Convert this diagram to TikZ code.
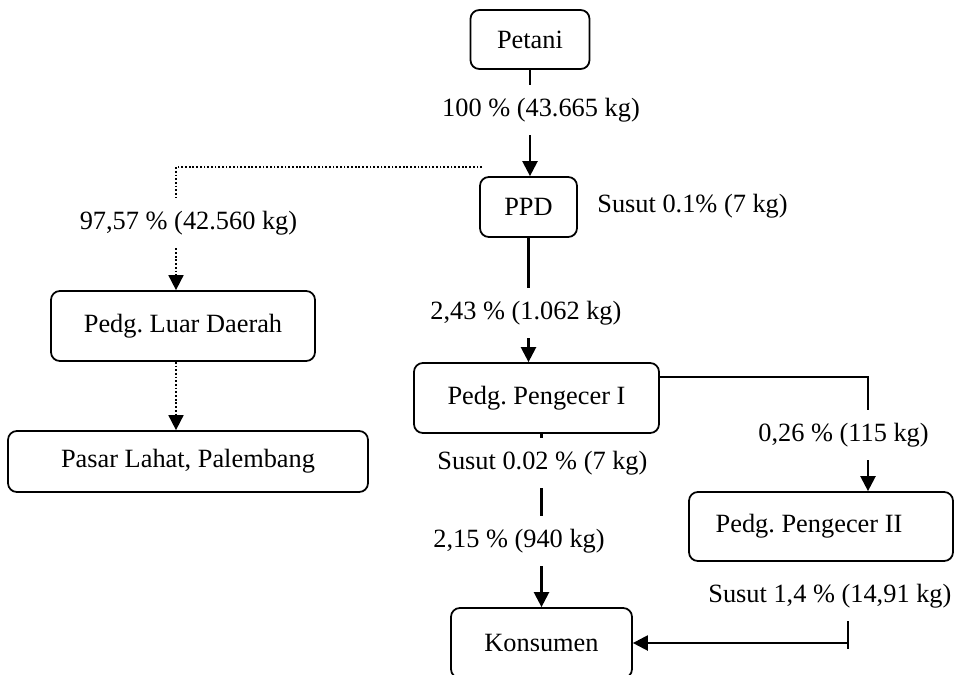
\documentclass[tikz,border=0pt]{standalone}
\usepackage{fontspec}
\setmainfont{Liberation Serif}
\usetikzlibrary{positioning,arrows.meta}
\frenchspacing

\begin{document}
\begin{tikzpicture}[x=0.02cm,y=-0.02cm,
    box/.style={rectangle,rounded corners=5pt,draw,line width=1pt,align=center,
                inner sep=0pt,font=\fontsize{15}{18}\selectfont},
    lbl/.style={font=\fontsize{15}{18}\selectfont,inner xsep=0pt,inner ysep=7pt,
                text height=11pt,text depth=3.5pt},
    link/.style={line width=1.3pt},
    arrow/.style={-{Triangle[length=8.5pt,width=8.5pt]},line width=1.3pt},
    dots/.style={line width=1pt,dash pattern=on 1pt off 1.1pt},
    dotarrow/.style={dots,-{Triangle[length=8.5pt,width=8.5pt]}}
]
\useasboundingbox (0,0) rectangle (954,674);

% Boxes
\node[box,minimum width=2.38cm,minimum height=1.18cm] (petani) at (530,39.5) {Petani};
\node[box,minimum width=1.94cm,minimum height=1.2cm] (ppd) at (528.5,207) {PPD};
\node[box,minimum width=5.28cm,minimum height=1.4cm] (luar) at (183,326) {Pedg. Luar Daerah};
\node[box,minimum width=7.2cm,minimum height=1.22cm] (pasar) at (188,461.5) {Pasar Lahat, Palembang};
\node[box,minimum width=4.9cm,minimum height=1.4cm] (peng1) at (536.5,398) {Pedg. Pengecer I};
\node[box,minimum width=5.28cm,minimum height=1.38cm] (peng2) at (821,526.5) {Pedg. Pengecer II\hspace*{0.48cm}};
\node[box,minimum width=3.62cm,minimum height=1.4cm] (konsumen) at (541.5,643) {Konsumen};

% Flow labels
\node[lbl] (l100) at (541,110) {100 \% (43.665 kg)};
\node[lbl,anchor=west] (lppd) at (597,205.5) {Susut 0.1\% (7 kg)};
\node[lbl] (l9757) at (188.5,223) {97,57 \% (42.560 kg)};
\node[lbl,anchor=west] (l243) at (430,313) {2,43 \% (1.062 kg)};
\node[lbl,anchor=west] (l026) at (758,435) {0,26 \% (115 kg)};
\node[lbl,anchor=west] (lsusut1) at (437,463) {Susut 0.02 \% (7 kg)};
\node[lbl,anchor=west] (l215) at (433,541) {2,15 \% (940 kg)};
\node[lbl,anchor=west] (lsusut2) at (708,596) {Susut 1,4 \% (14,91 kg)};

% Corners of the connectors
\coordinate (split) at (482,167);
\coordinate (c1) at (176,167);
\coordinate (c2) at (868,377);
\coordinate (c3) at (848,643);

% Petani to PPD
\draw[link] (petani.south) -- (petani.south |- l100.north);
\draw[arrow] (petani.south |- l100.south) -- (petani.south |- ppd.north);

% PPD to Pedg. Luar Daerah and Pasar
\draw[dots] (split) -- (c1) -- (c1 |- l9757.north);
\draw[dotarrow] (c1 |- l9757.south) -- (c1 |- luar.north);
\draw[dotarrow] (c1 |- luar.south) -- (c1 |- pasar.north);

% PPD to Pedg. Pengecer I
\draw[link] (ppd.south) -- (ppd.south |- l243.north);
\draw[arrow] (ppd.south |- l243.south) -- (ppd.south |- peng1.north);

% Pedg. Pengecer I to Pedg. Pengecer II
\draw[link] (peng1.east |- c2) -- (c2) -- (c2 |- l026.north);
\draw[arrow] (c2 |- l026.south) -- (c2 |- peng2.north);

% Pedg. Pengecer I to Konsumen
\draw[link] (konsumen.north |- peng1.south) -- (konsumen.north |- lsusut1.north);
\draw[link] (konsumen.north |- lsusut1.south) -- (konsumen.north |- l215.north);
\draw[arrow] (konsumen.north |- l215.south) -- (konsumen.north);

% Pedg. Pengecer II to Konsumen
\draw[link] (c3 |- lsusut2.south) -- ([yshift=-0.12cm]c3);
\draw[arrow] (c3) -- (konsumen.east);

\end{tikzpicture}
\end{document}
